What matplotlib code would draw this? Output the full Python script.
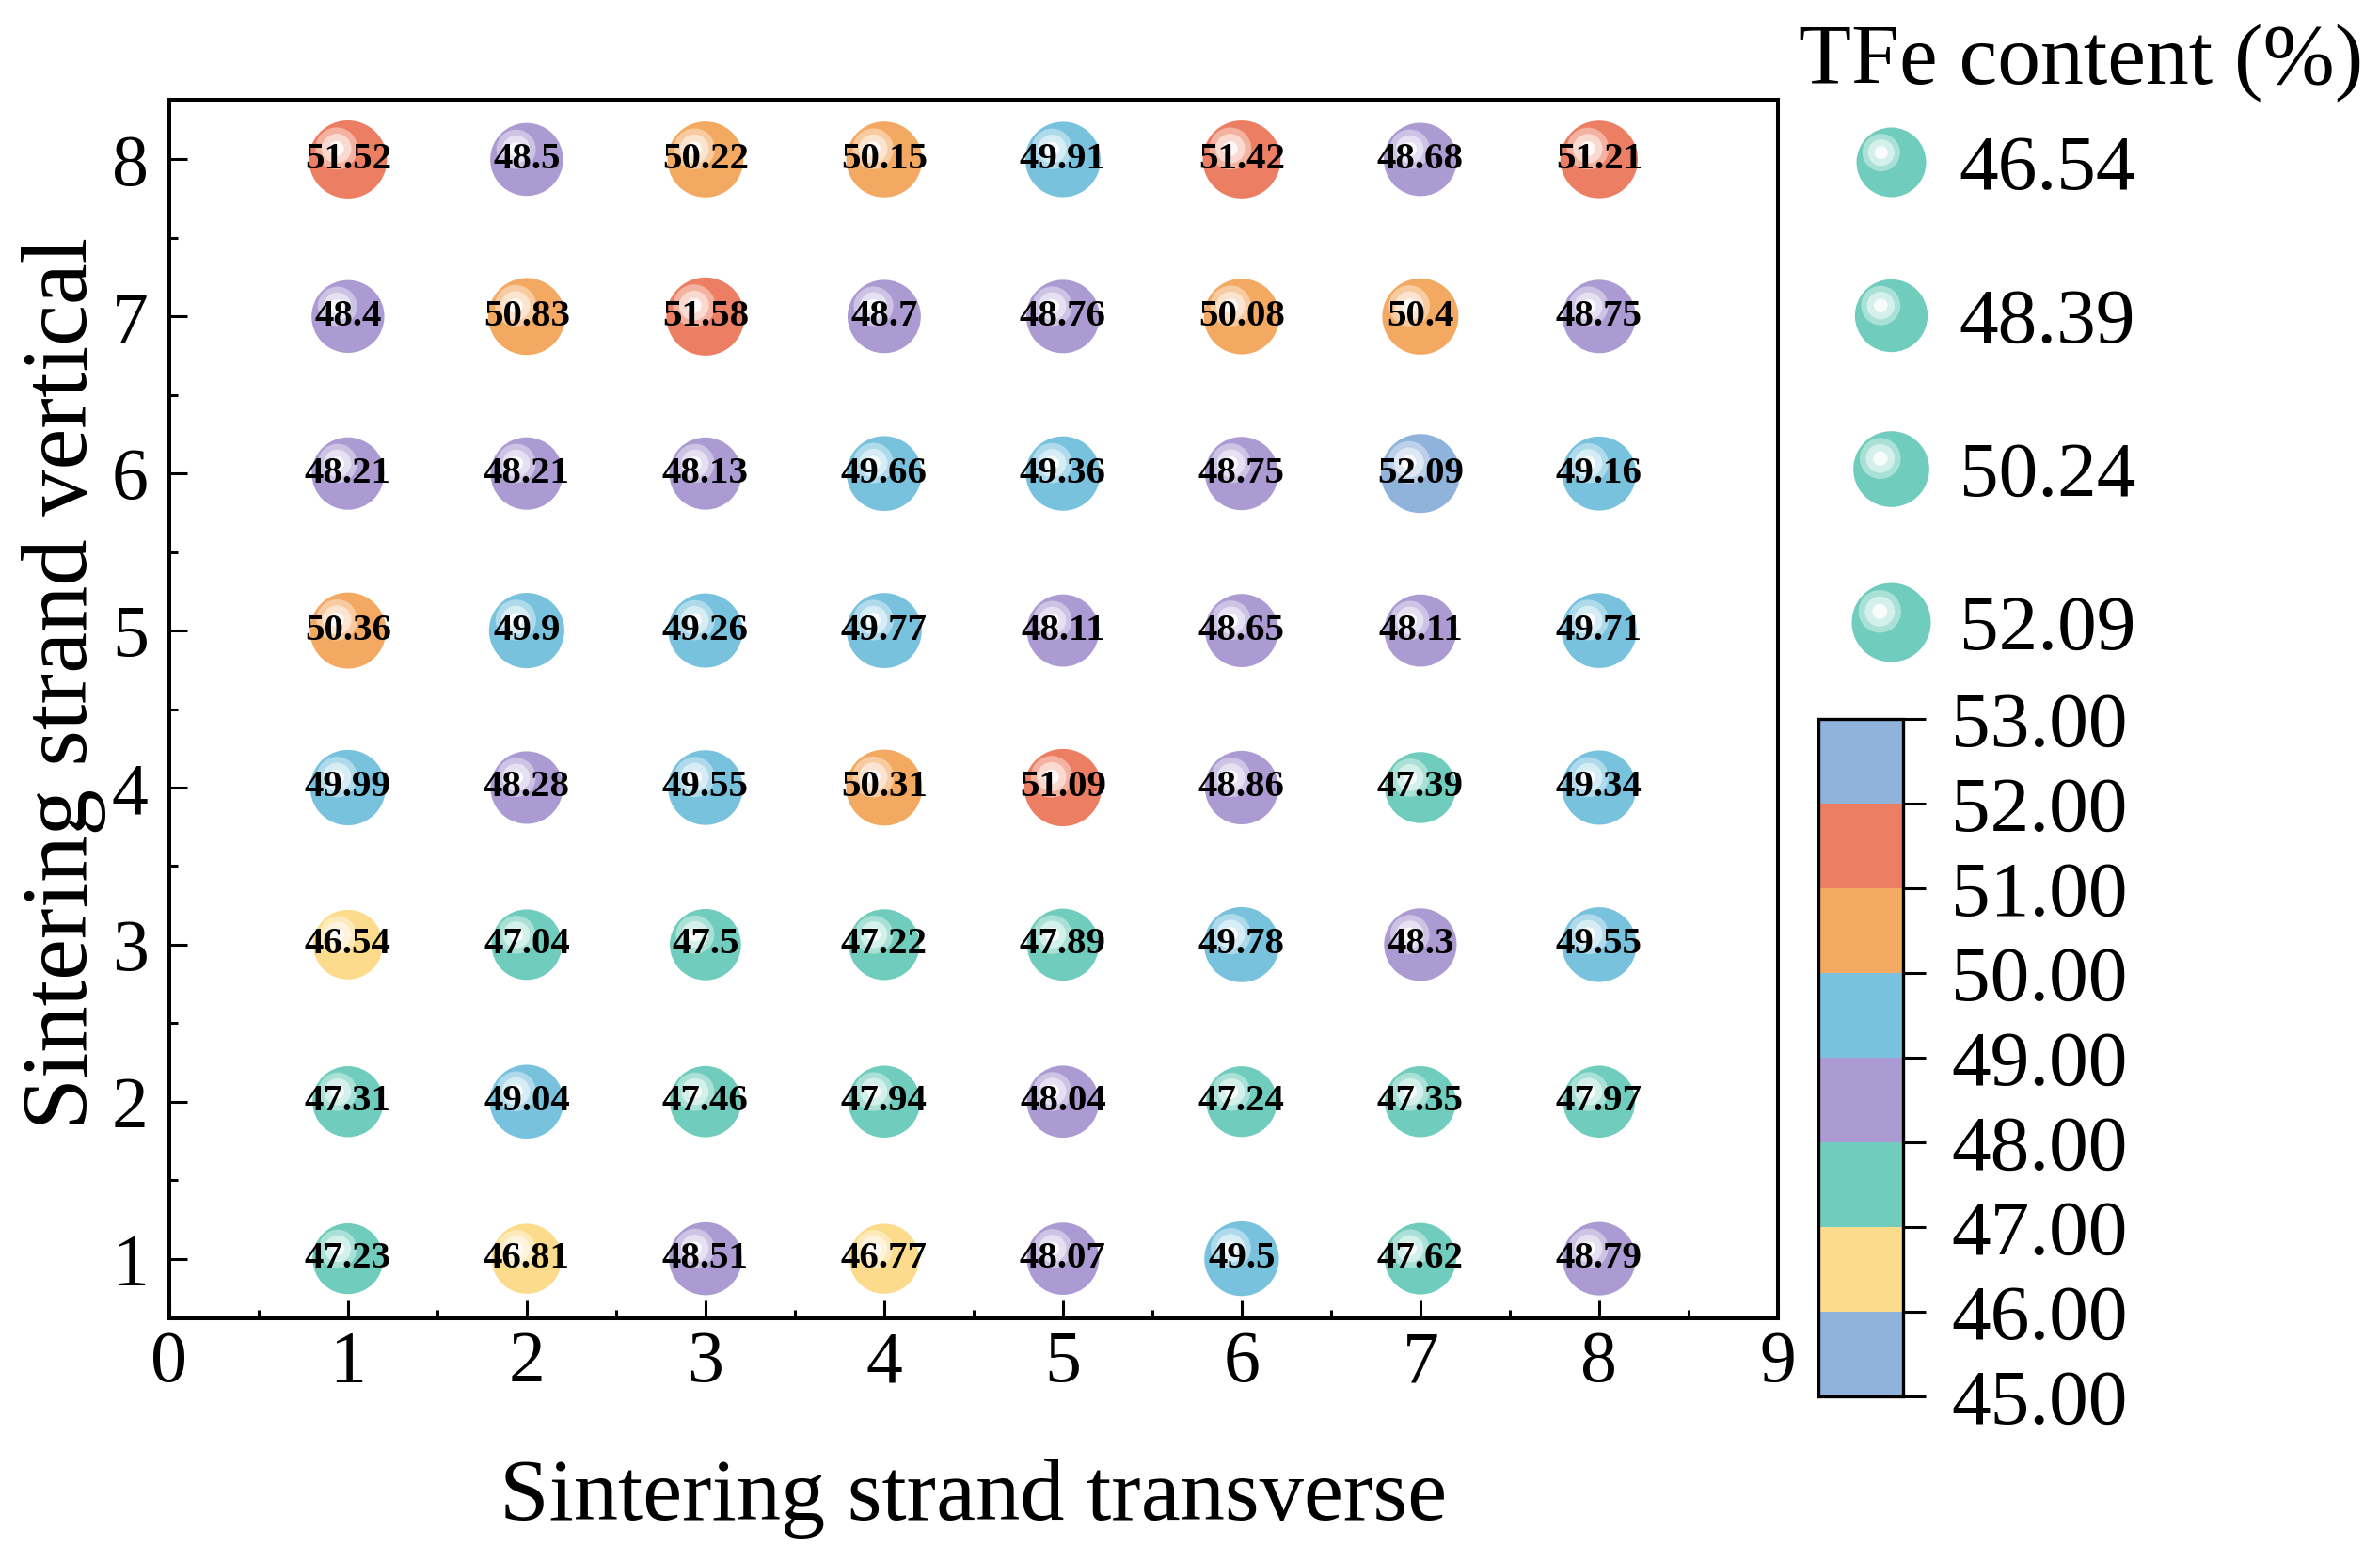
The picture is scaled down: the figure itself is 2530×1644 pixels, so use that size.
import numpy as np
import matplotlib
matplotlib.use('Agg')
import matplotlib.pyplot as plt
from matplotlib.path import Path
from matplotlib.lines import Line2D
from matplotlib.colors import ListedColormap, BoundaryNorm, to_rgb
from matplotlib.cm import ScalarMappable
from matplotlib.ticker import MultipleLocator

# sampling grid on the strand
transverse = [1, 2, 3, 4, 5, 6, 7, 8]
vertical = [8, 7, 6, 5, 4, 3, 2, 1]
# TFe content (%), one row per vertical position (8 -> 1)
tfe = [
    [51.52, 48.5, 50.22, 50.15, 49.91, 51.42, 48.68, 51.21],
    [48.4, 50.83, 51.58, 48.7, 48.76, 50.08, 50.4, 48.75],
    [48.21, 48.21, 48.13, 49.66, 49.36, 48.75, 52.09, 49.16],
    [50.36, 49.9, 49.26, 49.77, 48.11, 48.65, 48.11, 49.71],
    [49.99, 48.28, 49.55, 50.31, 51.09, 48.86, 47.39, 49.34],
    [46.54, 47.04, 47.5, 47.22, 47.89, 49.78, 48.3, 49.55],
    [47.31, 49.04, 47.46, 47.94, 48.04, 47.24, 47.35, 47.97],
    [47.23, 46.81, 48.51, 46.77, 48.07, 49.5, 47.62, 48.79],
]
legend_values = [46.54, 48.39, 50.24, 52.09]
bounds = [45, 46, 47, 48, 49, 50, 51, 52, 53]
palette = ['#8FB3DB', '#FCDC8C', '#70CDBD', '#AC9BD2',
           '#78C2DE', '#F3A961', '#EC7F63', '#8FB3DB']

plt.rcParams['font.family'] = ['Liberation Serif', 'DejaVu Serif']

cmap = ListedColormap(palette)
norm = BoundaryNorm(bounds, cmap.N)

# glossy highlight: (dx, dy, radius, white mix) relative to a unit bubble
shine = [(-0.29, 0.28, 0.54, 0.4), (-0.29, 0.28, 0.38, 0.7), (-0.29, 0.28, 0.19, 0.95)]


def shifted_circle(cx, cy, r):
    # the lone MOVETO at (1, 0) keeps the marker scaled like the unit bubble
    anchor = Path([(1.0, 0.0)], [Path.MOVETO])
    return Path.make_compound_path(anchor, Path.circle((cx, cy), r))


def bubble_size(v):
    # diameter grows mildly with the value
    d = (74 + (np.asarray(v) - 46.54) * 1.8) * 0.72
    return d ** 2


def lighten(rgb, mix):
    return np.asarray(rgb) * (1 - mix) + mix


fig = plt.figure(figsize=(25.3, 16.44), dpi=100)
ax = fig.add_axes([0.0711, 0.1478, 0.6759, 0.7877])

xx, yy = np.meshgrid(transverse, vertical)
vals = np.array(tfe)
xs, ys, vs = xx.ravel(), yy.ravel(), vals.ravel()
sizes = bubble_size(vs)
base = np.array([to_rgb(cmap(norm(v))) for v in vs])

ax.scatter(xs, ys, s=sizes, c=base, marker='o', linewidths=0, zorder=3)
for i, (dx, dy, r, mix) in enumerate(shine):
    ax.scatter(xs, ys, s=sizes, c=lighten(base, mix), marker=shifted_circle(dx, dy, r),
               linewidths=0, zorder=4 + i)
for x, y, v in zip(xs, ys, vs):
    ax.text(x, y, f'{v:g}', ha='center', va='center', fontsize=29.5,
            fontweight='bold', zorder=10)

ax.set_xlim(0, 9)
ax.set_ylim(0.62, 8.38)
ax.xaxis.set_major_locator(MultipleLocator(1))
ax.xaxis.set_minor_locator(MultipleLocator(0.5))
ax.yaxis.set_major_locator(MultipleLocator(1))
ax.yaxis.set_minor_locator(MultipleLocator(0.5))
ax.tick_params(which='both', direction='in', top=False, right=False, width=2.2)
ax.tick_params(which='major', length=13.7, labelsize=56)
ax.tick_params(which='minor', length=6.5)
ax.tick_params(axis='x', pad=9)
ax.tick_params(axis='y', pad=16)
for sp in ax.spines.values():
    sp.set_linewidth(2.9)
ax.set_xlabel('Sintering strand transverse', fontsize=68, labelpad=47)
ax.set_ylabel('Sintering strand vertical', fontsize=71)
ax.yaxis.set_label_coords(-0.039, 0.521)

# discrete colour bar
cax = fig.add_axes([0.764, 0.0973, 0.0356, 0.438])
cb = fig.colorbar(ScalarMappable(norm=norm, cmap=cmap), cax=cax, ticks=bounds, format='%.2f')
cb.outline.set_linewidth(2.4)
cax.tick_params(direction='out', length=17, width=2.2, labelsize=60, pad=20)

# size legend
teal = to_rgb(palette[2])
handles = []
for v in legend_values:
    ms = float(np.sqrt(bubble_size(v)))
    parts = [Line2D([], [], linestyle='none', marker='o', markersize=ms,
                    markerfacecolor=teal, markeredgewidth=0)]
    for dx, dy, r, mix in shine:
        parts.append(Line2D([], [], linestyle='none', marker=shifted_circle(dx, dy, r),
                            markersize=ms, markerfacecolor=lighten(teal, mix),
                            markeredgewidth=0))
    handles.append(tuple(parts))

fig.text(0.7557, 1 - 89 / 1644, 'TFe content (%)', fontsize=66, va='baseline', ha='left')
fig.legend(handles, [f'{v:.2f}' for v in legend_values], loc='upper left',
           bbox_to_anchor=(0.778, 0.9132), frameon=False, borderpad=0, borderaxespad=0,
           handlelength=1.0, handletextpad=0.37, labelspacing=1.04, fontsize=60)

fig.savefig('out.png', dpi=100)
